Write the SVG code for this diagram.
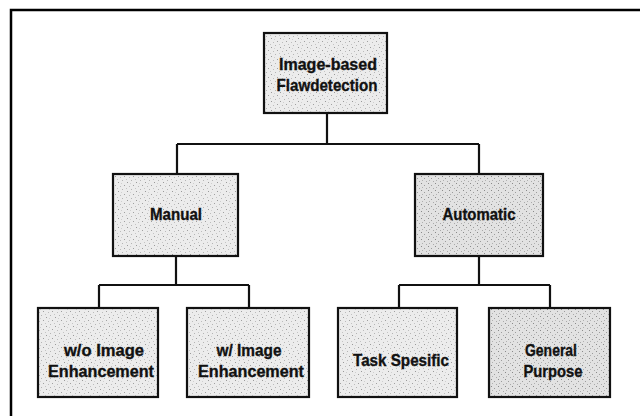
<svg xmlns="http://www.w3.org/2000/svg" width="640" height="416" viewBox="0 0 640 416">
  <defs>
    <!-- screened grey fill used inside every box -->
    <pattern id="stipple" width="9" height="9" patternUnits="userSpaceOnUse">
      <rect width="9" height="9" fill="#ececec"/>
      <rect x="1" y="2" width="1" height="1" fill="#9a9a9a"/>
      <rect x="5" y="0" width="1" height="1" fill="#b4b4b4"/>
      <rect x="7" y="5" width="1" height="1" fill="#a0a0a0"/>
      <rect x="3" y="6" width="1" height="1" fill="#bcbcbc"/>
      <rect x="0" y="8" width="1" height="1" fill="#c4c4c4"/>
      <rect x="4" y="3" width="1" height="1" fill="#cfcfcf"/>
    </pattern>
    <pattern id="stippleDark" width="7" height="7" patternUnits="userSpaceOnUse">
      <rect width="7" height="7" fill="#e2e2e2"/>
      <rect x="1" y="1" width="1" height="1" fill="#8a8a8a"/>
      <rect x="4" y="3" width="1" height="1" fill="#9c9c9c"/>
      <rect x="6" y="6" width="1" height="1" fill="#aaaaaa"/>
      <rect x="2" y="5" width="1" height="1" fill="#b0b0b0"/>
    </pattern>
  </defs>
  <style>
    .frame { fill: none; stroke: #000; stroke-width: 2.5; }
    .box { fill: url(#stipple); stroke: #111; stroke-width: 2.2; }
    .box.dark { fill: url(#stippleDark); }
    .link { fill: none; stroke: #111; stroke-width: 2.2; }
    .label { font-family: "Liberation Sans", Arial, sans-serif; font-weight: bold; font-size: 17px; fill: #111; stroke: #111; stroke-width: 0.35; text-anchor: middle; }
    .small { font-size: 16.5px; }
  </style>

  <rect width="640" height="416" fill="#fff"/>

  <!-- outer border, open towards the right and bottom edges -->
  <rect class="frame" x="11" y="10" width="660" height="440"/>

  <!-- tree connectors -->
  <g id="connectors">
    <path class="link" d="M327 113 V144 M177 144 H479 M177 144 V174 M479 144 V174"/>
    <path class="link" d="M176 256 V285 M99 285 H249 M99 285 V308 M249 285 V308"/>
    <path class="link" d="M479 256 V285 M399 285 H550 M399 285 V308 M550 285 V308"/>
  </g>

  <g id="root">
    <rect class="box" x="264" y="33" width="123" height="80"/>
    <text class="label" x="328" y="70" textLength="98" lengthAdjust="spacingAndGlyphs">Image-based</text>
    <text class="label" x="327" y="91" textLength="101" lengthAdjust="spacingAndGlyphs">Flawdetection</text>
  </g>

  <g id="manual">
    <rect class="box" x="113" y="174" width="125" height="82"/>
    <text class="label" x="176" y="220" textLength="52" lengthAdjust="spacingAndGlyphs">Manual</text>
  </g>

  <g id="automatic">
    <rect class="box dark" x="415" y="174" width="128" height="82"/>
    <text class="label" x="479" y="220" textLength="73" lengthAdjust="spacingAndGlyphs">Automatic</text>
  </g>

  <g id="without-enhancement">
    <rect class="box" x="38" y="308" width="120" height="89"/>
    <text class="label small" x="104" y="356" textLength="80" lengthAdjust="spacingAndGlyphs">w/o Image</text>
    <text class="label small" x="101" y="377" textLength="106" lengthAdjust="spacingAndGlyphs">Enhancement</text>
  </g>

  <g id="with-enhancement">
    <rect class="box" x="187" y="308" width="122" height="89"/>
    <text class="label small" x="249" y="356" textLength="65" lengthAdjust="spacingAndGlyphs">w/ Image</text>
    <text class="label small" x="251" y="377" textLength="106" lengthAdjust="spacingAndGlyphs">Enhancement</text>
  </g>

  <g id="task-specific">
    <rect class="box" x="338" y="308" width="119" height="89"/>
    <text class="label small" x="401" y="366" textLength="96" lengthAdjust="spacingAndGlyphs">Task Spesific</text>
  </g>

  <g id="general-purpose">
    <rect class="box dark" x="489" y="308" width="121" height="89"/>
    <text class="label small" x="551" y="356" textLength="52" lengthAdjust="spacingAndGlyphs">General</text>
    <text class="label small" x="553" y="377" textLength="59" lengthAdjust="spacingAndGlyphs">Purpose</text>
  </g>
</svg>
